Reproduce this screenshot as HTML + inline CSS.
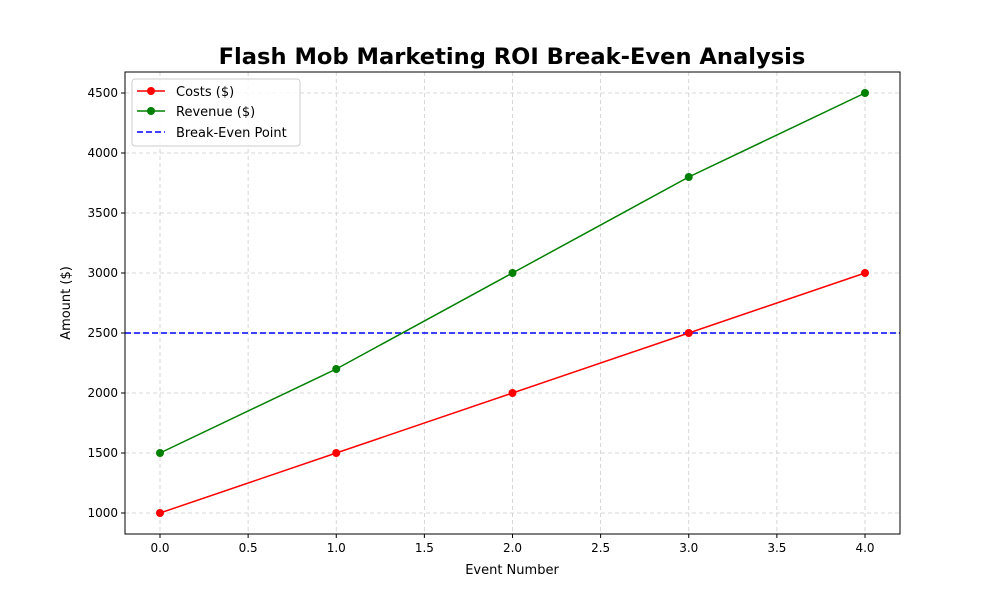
<!DOCTYPE html>
<html><head><meta charset="utf-8"><style>body{margin:0;background:#fff}svg{font-family:"DejaVu Sans","Liberation Sans",sans-serif}</style></head>
<body>
<svg id="chart" width="1000" height="600"></svg>
<script>
const categories=[0,1,2,3,4];
const costs=[1000,1500,2000,2500,3000];
const revenue=[1500,2200,3000,3800,4500];
const breakEven=2500;
const xTicks=["0.0","0.5","1.0","1.5","2.0","2.5","3.0","3.5","4.0"];
const yTicks=[1000,1500,2000,2500,3000,3500,4000,4500];
const L=125,R=900,T=72,B=534;
const xs=v=>160+v*176.25;
const ys=v=>513-(v-1000)*0.12;
const svg=document.getElementById('chart');
const NS='http://www.w3.org/2000/svg';
function mk(tag,attrs,parent){const e=document.createElementNS(NS,tag);for(const k in attrs)e.setAttribute(k,attrs[k]);(parent||svg).appendChild(e);return e;}
xTicks.forEach(t=>{const x=xs(parseFloat(t));
const g=mk('line',{x1:x,x2:x,y1:T,y2:B,stroke:'#ccc','stroke-dasharray':'4,3','stroke-width':0.8});


const tk=mk('line',{x1:x,x2:x,y1:B,y2:B+4,stroke:'#000'});


const tx=mk('text',{x:x,y:B+18,'text-anchor':'middle','font-size':12});tx.textContent=t;

});
yTicks.forEach(t=>{const y=ys(t);
const g=mk('line',{x1:L,x2:R,y1:y,y2:y,stroke:'#ccc','stroke-dasharray':'4,3','stroke-width':0.8});


const tk=mk('line',{x1:L-4,x2:L,y1:y,y2:y,stroke:'#000'});


const tx=mk('text',{x:L-7,y:y+4,'text-anchor':'end','font-size':12});tx.textContent=t;

});
const be=mk('line',{x1:L,x2:R,y1:ys(breakEven),y2:ys(breakEven),stroke:'#0000ff','stroke-width':1.5,'stroke-dasharray':'6,3'});


function series(vals,color,name){
const p=mk('polyline',{points:categories.map((c,i)=>xs(c)+','+ys(vals[i])).join(' '),fill:'none',stroke:color,'stroke-width':1.5});


categories.forEach((c,i)=>{const m=mk('circle',{cx:xs(c),cy:ys(vals[i]),r:4,fill:color});

});}
series(costs,'#ff0000','costs');
series(revenue,'#008000','revenue');
const fr=mk('rect',{x:L,y:T,width:R-L,height:B-T,fill:'none',stroke:'#000','stroke-width':1});


</script>
<svg width="1000" height="600" style="position:absolute;left:0;top:0">
<text x="512" y="64" text-anchor="middle" font-size="22.6" font-weight="bold">Flash Mob Marketing ROI Break-Even Analysis</text>
<text x="512" y="574" text-anchor="middle" font-size="13">Event Number</text>
<text x="70" y="303" text-anchor="middle" font-size="13" transform="rotate(-90 70 303)">Amount ($)</text>
<g>
<rect x="132" y="79" width="168" height="67" rx="3" fill="#fff" fill-opacity="0.8" stroke="#ccc"/>
<g><line x1="137" x2="165" y1="91" y2="91" stroke="#ff0000" stroke-width="1.5"/><circle cx="151" cy="91" r="4" fill="#ff0000"/><text x="176" y="96" font-size="13">Costs ($)</text></g>
<g><line x1="137" x2="165" y1="111" y2="111" stroke="#008000" stroke-width="1.5"/><circle cx="151" cy="111" r="4" fill="#008000"/><text x="176" y="116" font-size="13">Revenue ($)</text></g>
<g><line x1="137" x2="165" y1="132" y2="132" stroke="#0000ff" stroke-width="1.5" stroke-dasharray="6,3"/><text x="176" y="137" font-size="13">Break-Even Point</text></g>
</g>
</svg>
</body></html>
